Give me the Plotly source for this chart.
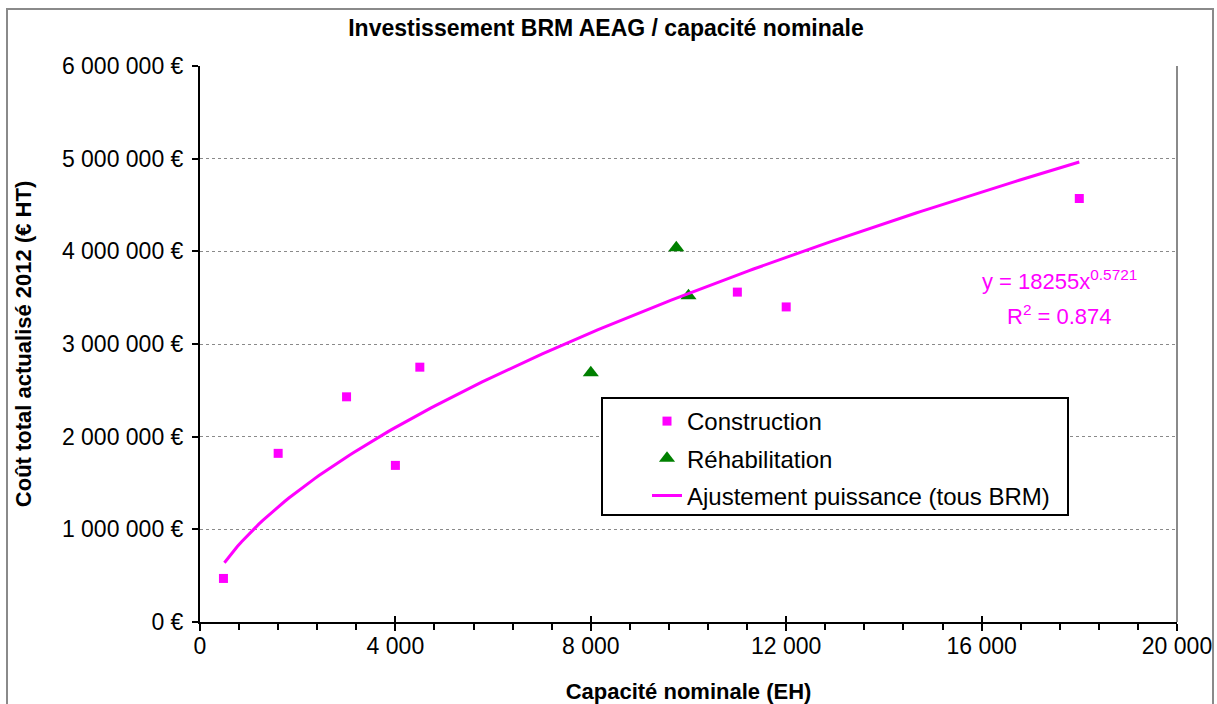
import numpy as np
import plotly.graph_objects as go

# ---- data ----
construction_x = [480, 1600, 3000, 4000, 4500, 11000, 12000, 18000]
construction_y = [470000, 1820000, 2430000, 1690000, 2750000, 3560000, 3400000, 4570000]

rehab_x = [8000, 9750, 10000]
rehab_y = [2690000, 4040000, 3520000]

fit_a = 18255
fit_b = 0.5721
fit_r2 = 0.874
fit_x_min, fit_x_max = 500, 18000

x_tickvals = [0, 4000, 8000, 12000, 16000, 20000]
x_ticktext = ["0", "4 000", "8 000", "12 000", "16 000", "20 000"]
y_tickvals = [0, 1e6, 2e6, 3e6, 4e6, 5e6, 6e6]
y_ticktext = ["0 €", "1 000 000 €", "2 000 000 €", "3 000 000 €",
              "4 000 000 €", "5 000 000 €", "6 000 000 €"]

FONT = "Liberation Sans, Arial, sans-serif"
MAGENTA = "#FF00FF"
GREEN = "#008000"

fit_x = np.linspace(fit_x_min, fit_x_max, 200)
fit_y = fit_a * fit_x ** fit_b

fig = go.Figure()
fig.add_trace(go.Scatter(
    x=construction_x, y=construction_y, mode="markers", name="Construction",
    marker=dict(symbol="square", size=9, color=MAGENTA), legendgroup="a"))
fig.add_trace(go.Scatter(
    x=rehab_x, y=rehab_y, mode="markers", name="Réhabilitation",
    marker=dict(symbol="triangle-up", size=14, color=GREEN), legendgroup="b"))
fig.add_trace(go.Scatter(
    x=fit_x, y=fit_y, mode="lines", name="Ajustement puissance (tous BRM)",
    line=dict(color=MAGENTA, width=3), legendgroup="c"))
# carrier for the overlay axis that draws the inner half of the major x ticks
fig.add_trace(go.Scatter(x=[None], y=[None], xaxis="x2", yaxis="y",
                         showlegend=False, hoverinfo="skip", mode="markers"))

fig.update_layout(
    width=1217, height=704,
    margin=dict(l=200, r=40, t=66, b=82, autoexpand=False),
    paper_bgcolor="white", plot_bgcolor="white",
    font=dict(family=FONT, size=23, color="black"),
    title=dict(text="<b>Investissement BRM AEAG / capacité nominale</b>",
               x=606 / 1217, xref="container", xanchor="center",
               y=1 - 28 / 704, yref="container", yanchor="middle",
               font=dict(size=23, family=FONT, color="black")),
    showlegend=True,
    legend=dict(x=(647 - 200) / 977, y=(622 - 399) / 556,
                xanchor="left", yanchor="top",
                bgcolor="rgba(0,0,0,0)", borderwidth=0,
                font=dict(size=24, family=FONT), tracegroupgap=3),
    xaxis=dict(range=[0, 20000], tickvals=x_tickvals, ticktext=x_ticktext,
               ticks="outside", ticklen=7, tickwidth=2, tickcolor="black",
               showline=True, linecolor="black", linewidth=2,
               showgrid=False, zeroline=False, ticklabelstandoff=-5,
               automargin=False, tickfont=dict(size=23),
               minor=dict(ticks="outside", dtick=800, ticklen=6, tickwidth=1.5,
                          tickcolor="black", showgrid=False),
               title=dict(text="<b>Capacité nominale (EH)</b>", standoff=27,
                          font=dict(size=22, family=FONT))),
    xaxis2=dict(range=[0, 20000], overlaying="x", anchor="y", side="bottom",
                tickvals=x_tickvals, showticklabels=False, automargin=False,
                ticks="inside", ticklen=6, tickwidth=2, tickcolor="black",
                showline=False, showgrid=False, zeroline=False),
    yaxis=dict(range=[0, 6e6], tickvals=y_tickvals, ticktext=y_ticktext,
               ticks="outside", ticklen=6, tickwidth=2, tickcolor="black",
               showline=True, linecolor="black", linewidth=2,
               showgrid=True, gridcolor="#8a8a8a", gridwidth=1, griddash="dot",
               zeroline=False, ticklabelstandoff=4, automargin=False,
               tickfont=dict(size=23),
               title=dict(text="<b>Coût total actualisé 2012 (€ HT)</b>", standoff=24,
                          font=dict(size=22, family=FONT))),
)

# legend frame (white box, black border) drawn above the data, below the legend text
fig.add_shape(type="rect", xref="paper", yref="paper", layer="above",
              x0=(602 - 200) / 977, x1=(1068 - 200) / 977,
              y0=(622 - 515) / 556, y1=(622 - 398) / 556,
              line=dict(color="black", width=2), fillcolor="white")
# plot-area right border
fig.add_shape(type="line", xref="paper", yref="paper", x0=1, x1=1, y0=0, y1=1,
              line=dict(color="#8a8a8a", width=2))
# outer chart border
fig.add_shape(type="rect", xref="paper", yref="paper",
              x0=(7 - 200) / 977, x1=(1213 - 200) / 977,
              y0=(622 - 720) / 556, y1=(622 - 9) / 556,
              line=dict(color="#8a8a8a", width=2), fillcolor="rgba(0,0,0,0)")

# trendline equation
fig.add_annotation(x=17600, y=3.69e6, xref="x", yref="y",
                   text=f"y = {fit_a}x<sup>{fit_b}</sup>", showarrow=False,
                   font=dict(color=MAGENTA, size=22, family=FONT))
fig.add_annotation(x=17600, y=3.31e6, xref="x", yref="y",
                   text=f"R<sup>2</sup> = {fit_r2}", showarrow=False,
                   font=dict(color=MAGENTA, size=22, family=FONT))

fig.write_html("out.html", config={"displayModeBar": False},
               post_script="document.body.style.margin='0';document.body.style.overflow='hidden';")
